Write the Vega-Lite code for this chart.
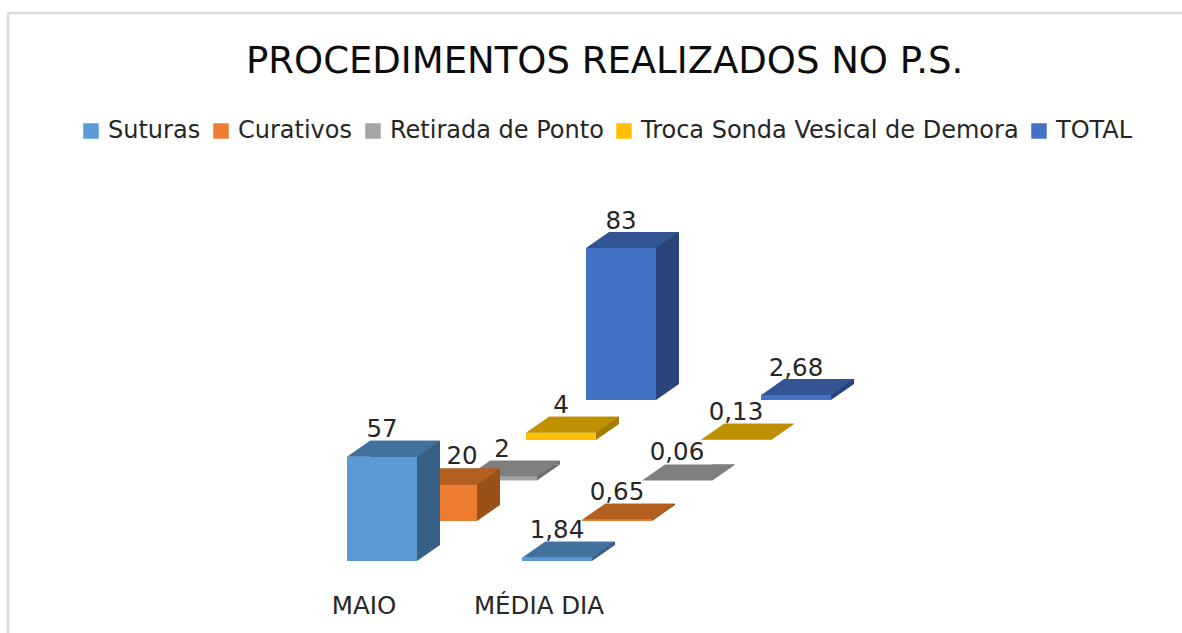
{
"$schema":"https://vega.github.io/schema/vega-lite/v6.json",
"autosize":{"type":"none"},
"padding":{"left":8,"top":13,"right":0,"bottom":0},
"width":1180,"height":625,
"background":"white",
"view":{"stroke":"#d9d9d9","strokeWidth":2.5,"fill":"white"},
"title":{"text":"PROCEDIMENTOS REALIZADOS NO P.S.","anchor":"start","frame":"group","dx":238,"offset":-68,"font":"DejaVu Sans","fontSize":37,"fontWeight":"normal","color":"#0d0d0d"},
"config":{"axis":{"grid":false}},
"data":{"values":[
{"categoria":"MAIO","serie":"Suturas","valor":57,"rotulo":"57"},
{"categoria":"MÉDIA DIA","serie":"Suturas","valor":1.84,"rotulo":"1,84"},
{"categoria":"MAIO","serie":"Curativos","valor":20,"rotulo":"20"},
{"categoria":"MÉDIA DIA","serie":"Curativos","valor":0.65,"rotulo":"0,65"},
{"categoria":"MAIO","serie":"Retirada de Ponto","valor":2,"rotulo":"2"},
{"categoria":"MÉDIA DIA","serie":"Retirada de Ponto","valor":0.06,"rotulo":"0,06"},
{"categoria":"MAIO","serie":"Troca Sonda Vesical de Demora","valor":4,"rotulo":"4"},
{"categoria":"MÉDIA DIA","serie":"Troca Sonda Vesical de Demora","valor":0.13,"rotulo":"0,13"},
{"categoria":"MAIO","serie":"TOTAL","valor":83,"rotulo":"83"},
{"categoria":"MÉDIA DIA","serie":"TOTAL","valor":2.68,"rotulo":"2,68"}
]},
"resolve":{"scale":{"x":"independent","y":"independent"},"axis":{"x":"independent","y":"independent"}},
"layer":[
{"transform":[{"filter":"datum.serie==='TOTAL'"}],
 "encoding":{"x":{"field":"categoria","type":"nominal","sort":null,"axis":null,"scale":{"type":"band","domain":["MAIO","MÉDIA DIA"],"range":[525.5,875.5],"paddingInner":0,"paddingOuter":0}},
  "y":{"field":"valor","type":"quantitative","axis":null,"scale":{"domain":[0,100],"range":[387,204],"nice":false}}},
 "layer":[
  {"mark":{"type":"bar","size":70,"color":"#294478","xOffset":23,"x2Offset":23,"yOffset":-16,"y2Offset":-16}},
  {"mark":{"type":"point","shape":"M35 0L35 -16L58 -16Z","size":4,"filled":true,"opacity":1,"strokeWidth":0,"color":"#294478"},"encoding":{"y":{"datum":0}}},
  {"mark":{"type":"bar","size":70},"encoding":{"color":{"field":"serie","type":"nominal","scale":{"domain":["Suturas","Curativos","Retirada de Ponto","Troca Sonda Vesical de Demora","TOTAL"],"range":["#5B9BD5","#ED7D31","#A5A5A5","#FFC000","#4472C4"]},"legend":{"orient":"none","legendX":71,"legendY":103,"direction":"horizontal","columns":5,"title":null,"symbolType":"square","symbolSize":240,"symbolStrokeWidth":0,"labelFont":"DejaVu Sans","labelFontSize":24,"labelColor":"#262626","labelLimit":500,"labelOffset":5,"columnPadding":8,"clipHeight":30}}}},
  {"mark":{"type":"point","shape":"M-35 0L35 0L58 -16L-12 -16Z","size":4,"filled":true,"opacity":1,"strokeWidth":0,"color":"#335593"}},
  {"mark":{"type":"text","dy":-26,"font":"DejaVu Sans","fontSize":24.5,"color":"#262626"},"encoding":{"text":{"field":"rotulo"}}}
 ]},
{"transform":[{"filter":"datum.serie==='Troca Sonda Vesical de Demora'"}],
 "encoding":{"x":{"field":"categoria","type":"nominal","sort":null,"axis":null,"scale":{"type":"band","domain":["MAIO","MÉDIA DIA"],"range":[465.5,815.5],"paddingInner":0,"paddingOuter":0}},
  "y":{"field":"valor","type":"quantitative","axis":null,"scale":{"domain":[0,100],"range":[427,244],"nice":false}}},
 "layer":[
  {"mark":{"type":"bar","size":70,"color":"#A67C00","xOffset":23,"x2Offset":23,"yOffset":-16,"y2Offset":-16}},
  {"mark":{"type":"point","shape":"M35 0L35 -16L58 -16Z","size":4,"filled":true,"opacity":1,"strokeWidth":0,"color":"#A67C00"},"encoding":{"y":{"datum":0}}},
  {"mark":{"type":"bar","size":70,"color":"#FFC000"}},
  {"mark":{"type":"point","shape":"M-35 0L35 0L58 -16L-12 -16Z","size":4,"filled":true,"opacity":1,"strokeWidth":0,"color":"#BF9000"}},
  {"mark":{"type":"text","dy":-27,"font":"DejaVu Sans","fontSize":24.5,"color":"#262626"},"encoding":{"text":{"field":"rotulo"}}}
 ]},
{"transform":[{"filter":"datum.serie==='Retirada de Ponto'"}],
 "encoding":{"x":{"field":"categoria","type":"nominal","sort":null,"axis":null,"scale":{"type":"band","domain":["MAIO","MÉDIA DIA"],"range":[406.5,756.5],"paddingInner":0,"paddingOuter":0}},
  "y":{"field":"valor","type":"quantitative","axis":null,"scale":{"domain":[0,100],"range":[467.5,284.5],"nice":false}}},
 "layer":[
  {"mark":{"type":"bar","size":70,"color":"#6F6F6F","xOffset":23,"x2Offset":23,"yOffset":-16,"y2Offset":-16}},
  {"mark":{"type":"point","shape":"M35 0L35 -16L58 -16Z","size":4,"filled":true,"opacity":1,"strokeWidth":0,"color":"#6F6F6F"},"encoding":{"y":{"datum":0}}},
  {"mark":{"type":"bar","size":70,"color":"#A5A5A5"}},
  {"mark":{"type":"point","shape":"M-35 0L35 0L58 -16L-12 -16Z","size":4,"filled":true,"opacity":1,"strokeWidth":0,"color":"#7F7F7F"}},
  {"mark":{"type":"text","dy":-27,"font":"DejaVu Sans","fontSize":24.5,"color":"#262626"},"encoding":{"text":{"field":"rotulo"}}}
 ]},
{"transform":[{"filter":"datum.serie==='Curativos'"}],
 "encoding":{"x":{"field":"categoria","type":"nominal","sort":null,"axis":null,"scale":{"type":"band","domain":["MAIO","MÉDIA DIA"],"range":[346.5,696.5],"paddingInner":0,"paddingOuter":0}},
  "y":{"field":"valor","type":"quantitative","axis":null,"scale":{"domain":[0,100],"range":[508,325],"nice":false}}},
 "layer":[
  {"mark":{"type":"bar","size":70,"color":"#9A5118","xOffset":23,"x2Offset":23,"yOffset":-16,"y2Offset":-16}},
  {"mark":{"type":"point","shape":"M35 0L35 -16L58 -16Z","size":4,"filled":true,"opacity":1,"strokeWidth":0,"color":"#9A5118"},"encoding":{"y":{"datum":0}}},
  {"mark":{"type":"bar","size":70,"color":"#ED7D31"}},
  {"mark":{"type":"point","shape":"M-35 0L35 0L58 -16L-12 -16Z","size":4,"filled":true,"opacity":1,"strokeWidth":0,"color":"#B35F20"}},
  {"transform":[{"filter":"datum.categoria==='MAIO'"}],"mark":{"type":"text","dy":-27,"dx":20,"font":"DejaVu Sans","fontSize":24.5,"color":"#262626"},"encoding":{"text":{"field":"rotulo"}}},
  {"transform":[{"filter":"datum.categoria!=='MAIO'"}],"mark":{"type":"text","dy":-27,"font":"DejaVu Sans","fontSize":24.5,"color":"#262626"},"encoding":{"text":{"field":"rotulo"}}}
 ]},
{"transform":[{"filter":"datum.serie==='Suturas'"}],
 "encoding":{"x":{"field":"categoria","type":"nominal","sort":null,"axis":{"title":null,"domain":false,"ticks":false,"labelAngle":0,"labelOffset":-18,"labelPadding":0,"labelBaseline":"middle","labelFont":"DejaVu Sans","labelFontSize":24.5,"labelColor":"#262626","offset":-32,"orient":"bottom"},"scale":{"type":"band","domain":["MAIO","MÉDIA DIA"],"range":[286.5,636.5],"paddingInner":0,"paddingOuter":0}},
  "y":{"field":"valor","type":"quantitative","axis":null,"scale":{"domain":[0,100],"range":[548,365],"nice":false}}},
 "layer":[
  {"mark":{"type":"bar","size":70,"color":"#386086","xOffset":23,"x2Offset":23,"yOffset":-16,"y2Offset":-16}},
  {"mark":{"type":"point","shape":"M35 0L35 -16L58 -16Z","size":4,"filled":true,"opacity":1,"strokeWidth":0,"color":"#386086"},"encoding":{"y":{"datum":0}}},
  {"mark":{"type":"bar","size":70,"color":"#5B9BD5"}},
  {"mark":{"type":"point","shape":"M-35 0L35 0L58 -16L-12 -16Z","size":4,"filled":true,"opacity":1,"strokeWidth":0,"color":"#41719C"}},
  {"mark":{"type":"text","dy":-27,"font":"DejaVu Sans","fontSize":24.5,"color":"#262626"},"encoding":{"text":{"field":"rotulo"}}}
 ]}
]
}
